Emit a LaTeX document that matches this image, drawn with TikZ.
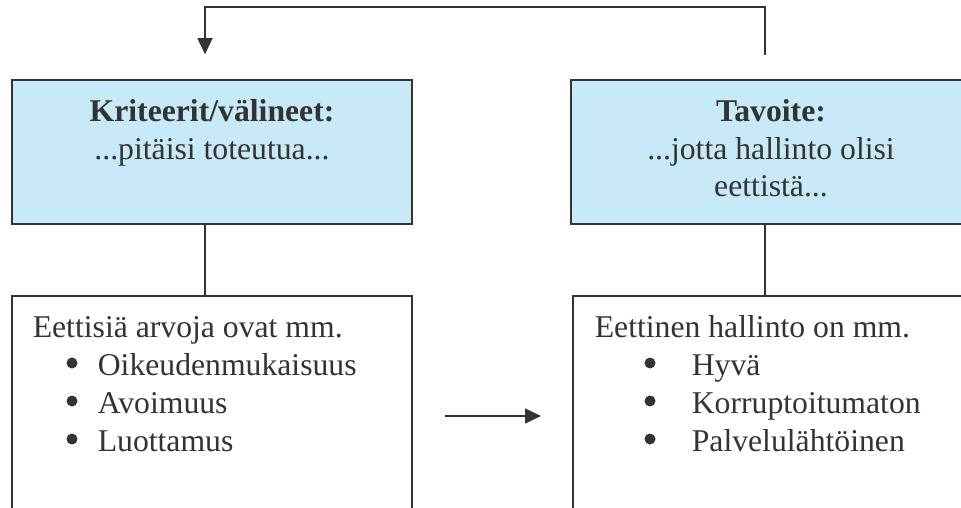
\documentclass[tikz,border=0pt]{standalone}
\usepackage{fontspec}
\setmainfont{Liberation Serif}
\usetikzlibrary{arrows.meta}

\definecolor{boxblue}{RGB}{199,233,248}
\definecolor{ink}{RGB}{51,51,51}

\begin{document}
\begin{tikzpicture}[x=1pt, y=-1pt, line width=1.6pt, color=ink,
                    every node/.style={font=\fontsize{31.7}{37.5}\selectfont},
                    box/.style={rectangle,draw=ink,line width=1.6pt,minimum width=400pt,inner sep=0pt},
                    head box/.style={box,fill=boxblue,minimum height=144pt},
                    list box/.style={box,minimum height=244pt},
                    bullet/.style={circle,fill=ink,inner sep=0pt,minimum size=11pt},
                    >={Triangle[length=16pt,width=15pt]}]

  \clip (0,0) rectangle (961,508);

  \node[head box] (krit) at (212,152) {};
  \node[head box] (tav) at (771,152) {};
  \node[list box] (arvot) at (212,418) {};
  \node[list box] (hall) at (773,418) {};

  % otsikot
  \node[anchor=north,align=center,inner sep=0pt] (krit-teksti) at (212,99)
    {\textbf{Kriteerit/välineet:}\\...pitäisi toteutua...};
  \node[anchor=north,align=center,inner sep=0pt] (tav-teksti) at (771,99)
    {\textbf{Tavoite:}\\...jotta hallinto olisi\\eettistä...};

  % luettelot
  \node[anchor=base west,inner sep=0pt] (arvot-teksti) at (32,337) {Eettisiä arvoja ovat mm.};
  \foreach \txt [count=\i] in {Oikeudenmukaisuus, Avoimuus, Luottamus} {
    \node[bullet] at (72,325+38*\i) {};
    \node[anchor=base west,inner sep=0pt] at (97,337+38*\i) {\txt};
  }
  \node[anchor=base west,inner sep=0pt] (hall-teksti) at (594,337) {Eettinen hallinto on mm.};
  \foreach \txt [count=\i] in {Hyvä, Korruptoitumaton, Palvelulähtöinen} {
    \node[bullet] at (650,325+38*\i) {};
    \node[anchor=base west,inner sep=0pt] at (691,337+38*\i) {\txt};
  }

  % yhteydet
  \draw[->] ([xshift=-6pt,yshift=24pt]tav.north) -- ++(0,-48) -| ([xshift=-7pt,yshift=25pt]krit.north);
  \draw ([xshift=-7pt]krit.south) -- ([xshift=-7pt]krit.south |- arvot.north);
  \draw ([xshift=-6pt]tav.south) -- ([xshift=-6pt]tav.south |- hall.north);

  \coordinate (nuoli-alku) at (445,416);
  \coordinate (nuoli-loppu) at (541,416);
  \draw[->] (nuoli-alku) -- (nuoli-loppu);
\end{tikzpicture}
\end{document}
